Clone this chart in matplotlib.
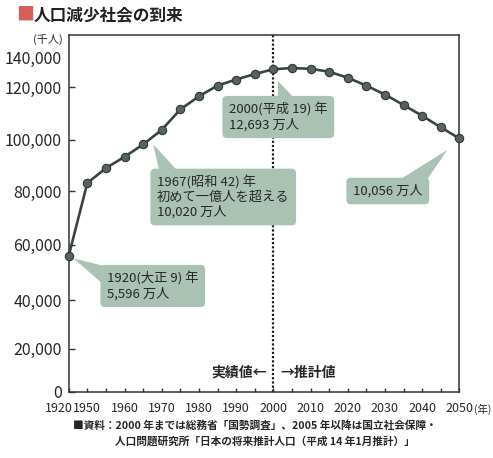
import numpy as np
import matplotlib
matplotlib.use('Agg')
import matplotlib.pyplot as plt
from matplotlib.transforms import ScaledTranslation

plt.rcParams['font.family'] = ['Noto Sans CJK JP', 'DejaVu Sans']

# データ（千人）
years = ['1920', '1950', '1955', '1960', '1965', '1970', '1975', '1980', '1985', '1990', '1995',
         '2000', '2005', '2010', '2015', '2020', '2025', '2030', '2035', '2040', '2045', '2050']
population = [55963, 83200, 89000, 93400, 98200, 103800, 111600, 116600, 120700, 123000, 125100,
              126926, 127400, 127100, 126000, 123700, 120700, 117300, 113300, 109200, 104800, 100560]
label_years = ['1920', '1950', '1960', '1970', '1980', '1990', '2000', '2010', '2020', '2030', '2040', '2050']
y_ticks = [0, 20000, 40000, 60000, 80000, 100000, 120000]

# 元図の目盛り間隔は不均等なので、それに合わせた区分線形スケール
scale_vals = [-1e6, 0, 20000, 40000, 60000, 80000, 100000, 120000, 140000, 1e6]
scale_pix = [-2175, 0, 43.5, 92, 147.5, 201, 252.5, 305, 357.5, 357.5 + 860 * 2.625]

def fwd(v):
    return np.interp(v, scale_vals, scale_pix)

def inv(p):
    return np.interp(p, scale_pix, scale_vals)

line_col = '#39443e'
box_col = '#a9c2b4'
text_col = '#262626'

fig = plt.figure(figsize=(4.93, 4.58), dpi=100)
ax = fig.add_axes([68.7 / 493, 66 / 458, (459.3 - 68.7) / 493, 357 / 458])
ax.set_yscale('function', functions=(fwd, inv))

x = np.arange(len(years))
i2000 = years.index('2000')
ax.axvline(i2000, color='#1e1e1e', lw=1.6, ls=(0, (1, 0.9)), zorder=1)
ax.plot(x, population, color=line_col, lw=1.9, marker='o', ms=6,
        mfc='#56645b', mec='#2f3833', mew=0.8, zorder=3, clip_on=False)

ax.set_xlim(0, len(years) - 1)
ax.set_ylim(0, 140000)

ax.set_xticks(x)
ax.set_xticklabels([y if y in label_years else '' for y in years], fontsize=9)
ax.set_yticks(y_ticks)
ax.set_yticklabels([f'{v:,}' for v in y_ticks], fontsize=11.5)
ax.tick_params(axis='x', direction='in', length=3, width=1, color='#333333', pad=7, labelcolor=text_col)
ax.tick_params(axis='y', direction='in', length=4, width=1, color='#333333', pad=5, labelcolor=text_col)
for s in ax.spines.values():
    s.set_color('#333333')
    s.set_linewidth(1.1)

# 1920 のラベルは 1950 と重ならないよう少し左へ
lab = ax.get_xticklabels()[0]
lab.set_transform(lab.get_transform() + ScaledTranslation(-10 / 100, 0, fig.dpi_scale_trans))

ax.annotate('140,000', xy=(0, 140000), xycoords=('axes fraction', 'data'),
            xytext=(-7, -24), textcoords='offset pixels', ha='right', va='center',
            fontsize=11.5, color=text_col)

bbox = dict(boxstyle='round,pad=0.5,rounding_size=0.35', fc=box_col, ec='none')

def tail(rel, gap):
    return dict(arrowstyle='wedge,tail_width=1.7,shrink_factor=0.5', fc=box_col, ec='none',
                patchA=None, shrinkA=0, shrinkB=gap, relpos=rel)

ax.annotate('1920(大正 9) 年\n5,596 万人', xy=(0, population[0]),
            xytext=(107, 458 - 286), textcoords='figure pixels', ha='left', va='center',
            fontsize=9.5, color=text_col, linespacing=1.15, bbox=bbox,
            arrowprops=tail((0.08, 0.72), 4), zorder=5)
ax.annotate('1967(昭和 42) 年\n初めて一億人を超える\n10,020 万人', xy=(4.4, 100200),
            xytext=(157, 458 - 197), textcoords='figure pixels', ha='left', va='center',
            fontsize=9.5, color=text_col, linespacing=1.15, bbox=bbox,
            arrowprops=tail((0.12, 0.85), 4), zorder=5)
ax.annotate('2000(平成 19) 年\n12,693 万人', xy=(i2000, population[i2000]),
            xytext=(229, 458 - 117), textcoords='figure pixels', ha='left', va='center',
            fontsize=9.5, color=text_col, linespacing=1.15, bbox=bbox,
            arrowprops=tail((0.6, 0.85), 9), zorder=5)
ax.annotate('10,056 万人', xy=(len(years) - 1, population[-1]),
            xytext=(353, 458 - 191), textcoords='figure pixels', ha='left', va='center',
            fontsize=9.5, color=text_col, bbox=bbox,
            arrowprops=tail((0.8, 0.8), 12), zorder=5)

ax.annotate('実績値←', xy=(i2000, 0), xycoords=('data', 'axes fraction'),
            xytext=(-6, 19), textcoords='offset pixels', ha='right', va='center',
            fontsize=10, fontweight='bold', color=text_col)
ax.annotate('→推計値', xy=(i2000, 0), xycoords=('data', 'axes fraction'),
            xytext=(7, 19), textcoords='offset pixels', ha='left', va='center',
            fontsize=10, fontweight='bold', color=text_col)

fig.text(16 / 493, 1 - 15 / 458, '■', fontsize=13, color='#d4605a', ha='left', va='center')
fig.text(34 / 493, 1 - 15 / 458, '人口減少社会の到来', fontsize=12, fontweight='bold',
         color='#222222', ha='left', va='center')
fig.text(63 / 493, 1 - 39 / 458, '(千人)', fontsize=8, color=text_col, ha='right', va='center')
fig.text(474 / 493, 1 - 409 / 458, '(年)', fontsize=7.5, color=text_col, ha='left', va='center')
fig.text(255 / 493, 1 - 425 / 458, '■資料：2000 年までは総務省「国勢調査」、2005 年以降は国立社会保障・',
         fontsize=7.7, fontweight='bold', color=text_col, ha='center', va='center')
fig.text(265 / 493, 1 - 441 / 458, '人口問題研究所「日本の将来推計人口（平成 14 年1月推計）」',
         fontsize=7.7, fontweight='bold', color=text_col, ha='center', va='center')

fig.savefig('out.png', dpi=100)
